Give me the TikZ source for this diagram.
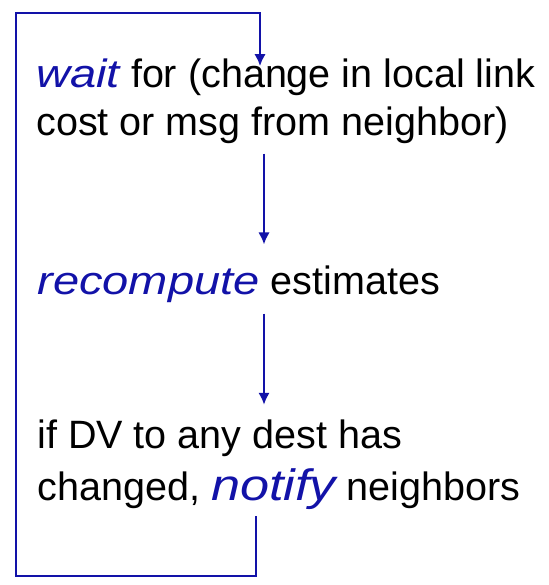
\documentclass[tikz,border=0pt]{standalone}
\usepackage{fontspec}
\setmainfont{Liberation Sans}
\newfontfamily\kwfont{Liberation Sans}[FakeStretch=1.19]
\usetikzlibrary{arrows.meta,positioning}
\definecolor{dvblue}{RGB}{18,18,168}
\newcommand{\kw}[2][22.5]{\textcolor{dvblue}{\kwfont\fontsize{#1}{28}\selectfont\itshape #2}}

\begin{document}
\begin{tikzpicture}[
    txt/.style={anchor=base west, inner sep=0pt, align=left, font=\fontsize{22.5}{27.8}\selectfont},
    arrow/.style={-{Latex[length=0.24cm,width=0.23cm]}, draw=dvblue, line width=1.45pt}
]
    \useasboundingbox (0,0) rectangle (10.98,11.70);

    % Steps of the loop (base = last line)
    \node[txt] (wait) at (0.72,8.98) {\kw{wait} for (change in local link\\cost or msg from neighbor)};
    \node[txt] (recomp) at (0.74,5.80) {\kw{recompute} estimates};
    \node[txt, font=\fontsize{22.5}{30}\selectfont] (notify) at (0.74,1.68) {if DV to any dest has\\changed, \kw[25]{notify} neighbors};

    % Helper points
    \coordinate (spine) at (5.28,0);
    \coordinate (entry) at (5.2,0);
    \coordinate (lowturn) at (5.12,0.18);
    \coordinate (highturn) at (0.32,11.44);

    % Arrows
    \draw[arrow, shorten <=0.18cm, shorten >=0.43cm] (wait.south -| spine) -- (recomp.north -| spine);
    \draw[arrow, shorten <=0.2cm, shorten >=0.29cm] (recomp.south -| spine) -- (notify.north -| spine);
    \draw[arrow, shorten <=0.12cm, shorten >=-0.16cm] (notify.south -| lowturn) -- (lowturn) -| (highturn) -| (wait.north -| entry);
\end{tikzpicture}
\end{document}
